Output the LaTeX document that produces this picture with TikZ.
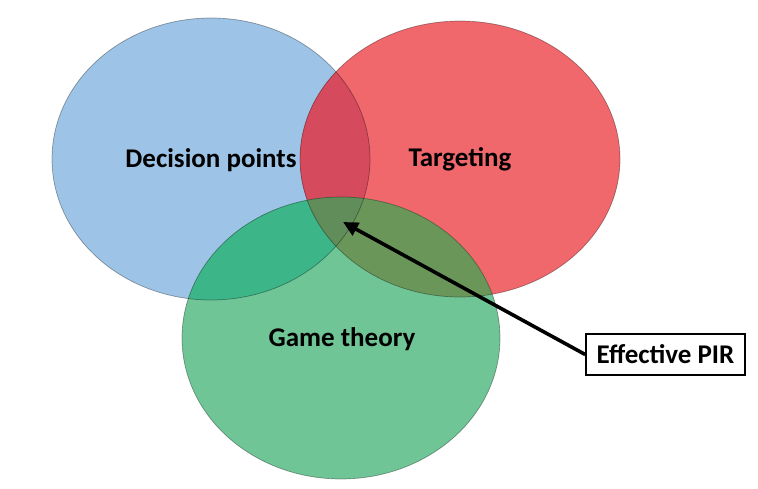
\documentclass[tikz,border=0pt]{standalone}
\usepackage{fontspec}
\setmainfont{Carlito}
\usetikzlibrary{arrows.meta}
\definecolor{cblue}{RGB}{157,195,230}
\definecolor{cred}{RGB}{240,103,108}
\definecolor{cgreen}{RGB}{112,197,150}
\definecolor{cbr}{RGB}{213,74,92}
\definecolor{cbg}{RGB}{60,181,136}
\definecolor{crg}{RGB}{106,151,89}
\definecolor{cbrg}{RGB}{96,141,89}
\tikzset{
  lbl/.style={font=\bfseries\fontsize{27}{30}\selectfont, text=black},
  rim/.style={draw=black, draw opacity=0.35, line width=0.7pt},
}
\def\Bl{(211,159) ellipse [x radius=159, y radius=141]}
\def\Rd{(460,159) ellipse [x radius=160, y radius=138]}
\def\Gr{(341,338) ellipse [x radius=159, y radius=141]}
\begin{document}
\begin{tikzpicture}[x=1pt,y=-1pt]
\useasboundingbox (0,0) rectangle (758,489);
\fill[cblue] \Bl;
\fill[cred] \Rd;
\fill[cgreen] \Gr;
\begin{scope}
  \clip \Bl;
  \fill[cbr] \Rd;
  \fill[cbg] \Gr;
\end{scope}
\begin{scope}
  \clip \Rd;
  \fill[crg] \Gr;
  \clip \Bl;
  \fill[cbrg] \Gr;
\end{scope}
\draw[rim] \Bl;
\draw[rim] \Rd;
\draw[rim] \Gr;
\node[lbl] (dp) at (211,160) {Decision points};
\node[lbl] (tg) at (460,159) {Targeting};
\node[lbl] (gt) at (342,339) {Game theory};
\node[lbl, draw=black, line width=1.6pt, minimum width=159pt, minimum height=41pt, inner sep=0pt, fill=white] (pir) at (665.5,354.5) {Effective PIR};
\coordinate (tip) at (343,222);
\draw[line width=3.6pt, -{Triangle[length=15pt,width=14pt]}] (pir.west) -- (tip);
\end{tikzpicture}
\end{document}
